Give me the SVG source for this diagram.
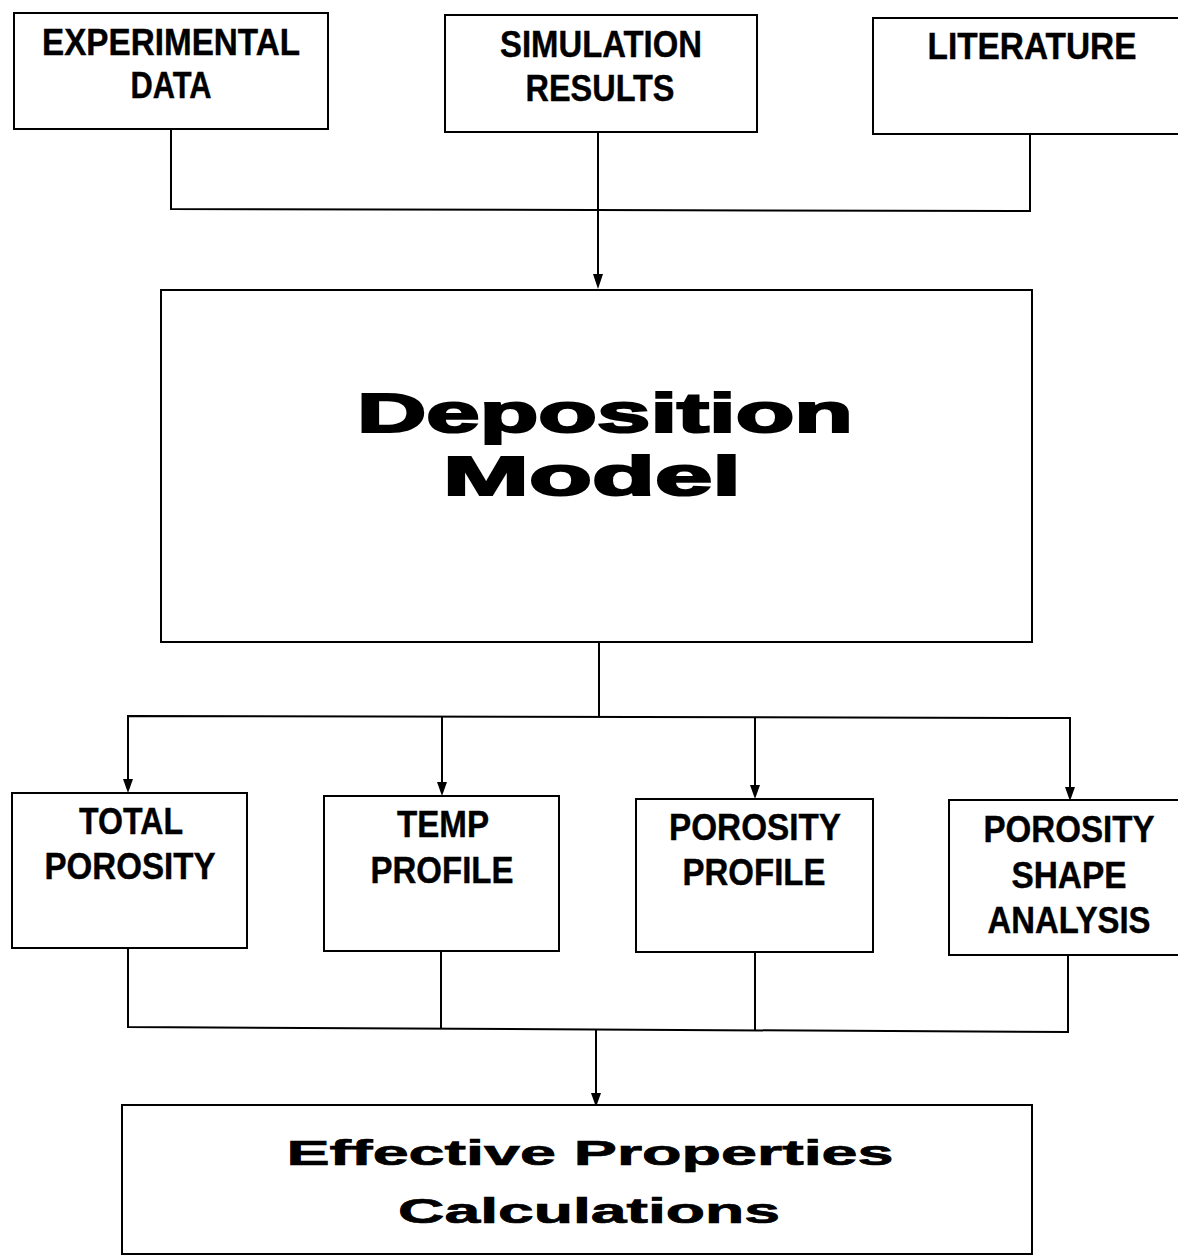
<svg xmlns="http://www.w3.org/2000/svg" width="1178" height="1256" viewBox="0 0 1178 1256">
<style>
.box{fill:#fff;stroke:#000;stroke-width:2}
.lbl{font-family:"Liberation Sans",Arial,sans-serif;font-weight:bold;font-size:37px;fill:#000;text-anchor:middle;stroke:#000;stroke-width:0.4}
.big{font-family:"Liberation Sans",Arial,sans-serif;font-weight:900;font-size:56px;fill:#000;text-anchor:middle;stroke:#000;stroke-width:2.2}
.mid{font-family:"Liberation Sans",Arial,sans-serif;font-weight:bold;font-size:35px;fill:#000;text-anchor:middle;stroke:#000;stroke-width:0.7}
.wire{fill:none;stroke:#000;stroke-width:2}
.head{fill:#000}
</style>
<rect width="1178" height="1256" fill="#fff"/>
<g id="connectors">
<polyline class="wire" points="171,129 171,209 1030,211 1030,134"/>
<line class="wire" x1="598" y1="132" x2="598" y2="275"/>
<path class="head" d="M593,274 L603,274 L598,289 Z"/>
<polyline class="wire" points="599,642 599,717"/>
<polyline class="wire" points="128,781 128,716 1070,718 1070,788"/>
<line class="wire" x1="442" y1="716" x2="442" y2="783"/>
<line class="wire" x1="755" y1="717" x2="755" y2="786"/>
<path class="head" d="M123,779 L133,779 L128,793 Z"/>
<path class="head" d="M437,782 L447,782 L442,796 Z"/>
<path class="head" d="M750,785 L760,785 L755,799 Z"/>
<path class="head" d="M1065,787 L1075,787 L1070,801 Z"/>
<polyline class="wire" points="128,948 128,1027 1068,1032 1068,955"/>
<line class="wire" x1="441" y1="951" x2="441" y2="1028"/>
<line class="wire" x1="755" y1="952" x2="755" y2="1030"/>
<line class="wire" x1="596" y1="1029" x2="596" y2="1095"/>
<path class="head" d="M591,1093 L601,1093 L596,1107 Z"/>
</g>
<g id="experimental">
<rect class="box" x="14" y="13" width="314" height="116"/>
<text class="lbl" x="171" y="55" textLength="258" lengthAdjust="spacingAndGlyphs">EXPERIMENTAL</text>
<text class="lbl" x="171" y="98" textLength="81" lengthAdjust="spacingAndGlyphs">DATA</text>
</g>
<g id="simulation">
<rect class="box" x="445" y="15" width="312" height="117"/>
<text class="lbl" x="601" y="57" textLength="202" lengthAdjust="spacingAndGlyphs">SIMULATION</text>
<text class="lbl" x="600" y="101" textLength="149" lengthAdjust="spacingAndGlyphs">RESULTS</text>
</g>
<g id="literature">
<rect class="box" x="873" y="18" width="310" height="116"/>
<text class="lbl" x="1032" y="59" textLength="209" lengthAdjust="spacingAndGlyphs">LITERATURE</text>
</g>
<g id="deposition">
<rect class="box" x="161" y="290" width="871" height="352"/>
<text class="big" x="605" y="432" textLength="496" lengthAdjust="spacingAndGlyphs">Deposition</text>
<text class="big" x="592" y="495" textLength="298" lengthAdjust="spacingAndGlyphs">Model</text>
</g>
<g id="total">
<rect class="box" x="12" y="793" width="235" height="155"/>
<text class="lbl" x="131" y="834" textLength="104" lengthAdjust="spacingAndGlyphs">TOTAL</text>
<text class="lbl" x="130" y="879" textLength="171" lengthAdjust="spacingAndGlyphs">POROSITY</text>
</g>
<g id="temp">
<rect class="box" x="324" y="796" width="235" height="155"/>
<text class="lbl" x="443" y="837" textLength="92" lengthAdjust="spacingAndGlyphs">TEMP</text>
<text class="lbl" x="442" y="883" textLength="143" lengthAdjust="spacingAndGlyphs">PROFILE</text>
</g>
<g id="porosity-profile">
<rect class="box" x="636" y="799" width="237" height="153"/>
<text class="lbl" x="755" y="840" textLength="172" lengthAdjust="spacingAndGlyphs">POROSITY</text>
<text class="lbl" x="754" y="885" textLength="143" lengthAdjust="spacingAndGlyphs">PROFILE</text>
</g>
<g id="porosity-shape">
<rect class="box" x="949" y="800" width="234" height="155"/>
<text class="lbl" x="1069" y="842" textLength="171" lengthAdjust="spacingAndGlyphs">POROSITY</text>
<text class="lbl" x="1069" y="888" textLength="115" lengthAdjust="spacingAndGlyphs">SHAPE</text>
<text class="lbl" x="1069" y="933" textLength="163" lengthAdjust="spacingAndGlyphs">ANALYSIS</text>
</g>
<g id="effective">
<rect class="box" x="122" y="1105" width="910" height="149"/>
<text class="mid" x="590" y="1165" textLength="607" lengthAdjust="spacingAndGlyphs">Effective Properties</text>
<text class="mid" x="589" y="1223" textLength="382" lengthAdjust="spacingAndGlyphs">Calculations</text>
</g>
</svg>
